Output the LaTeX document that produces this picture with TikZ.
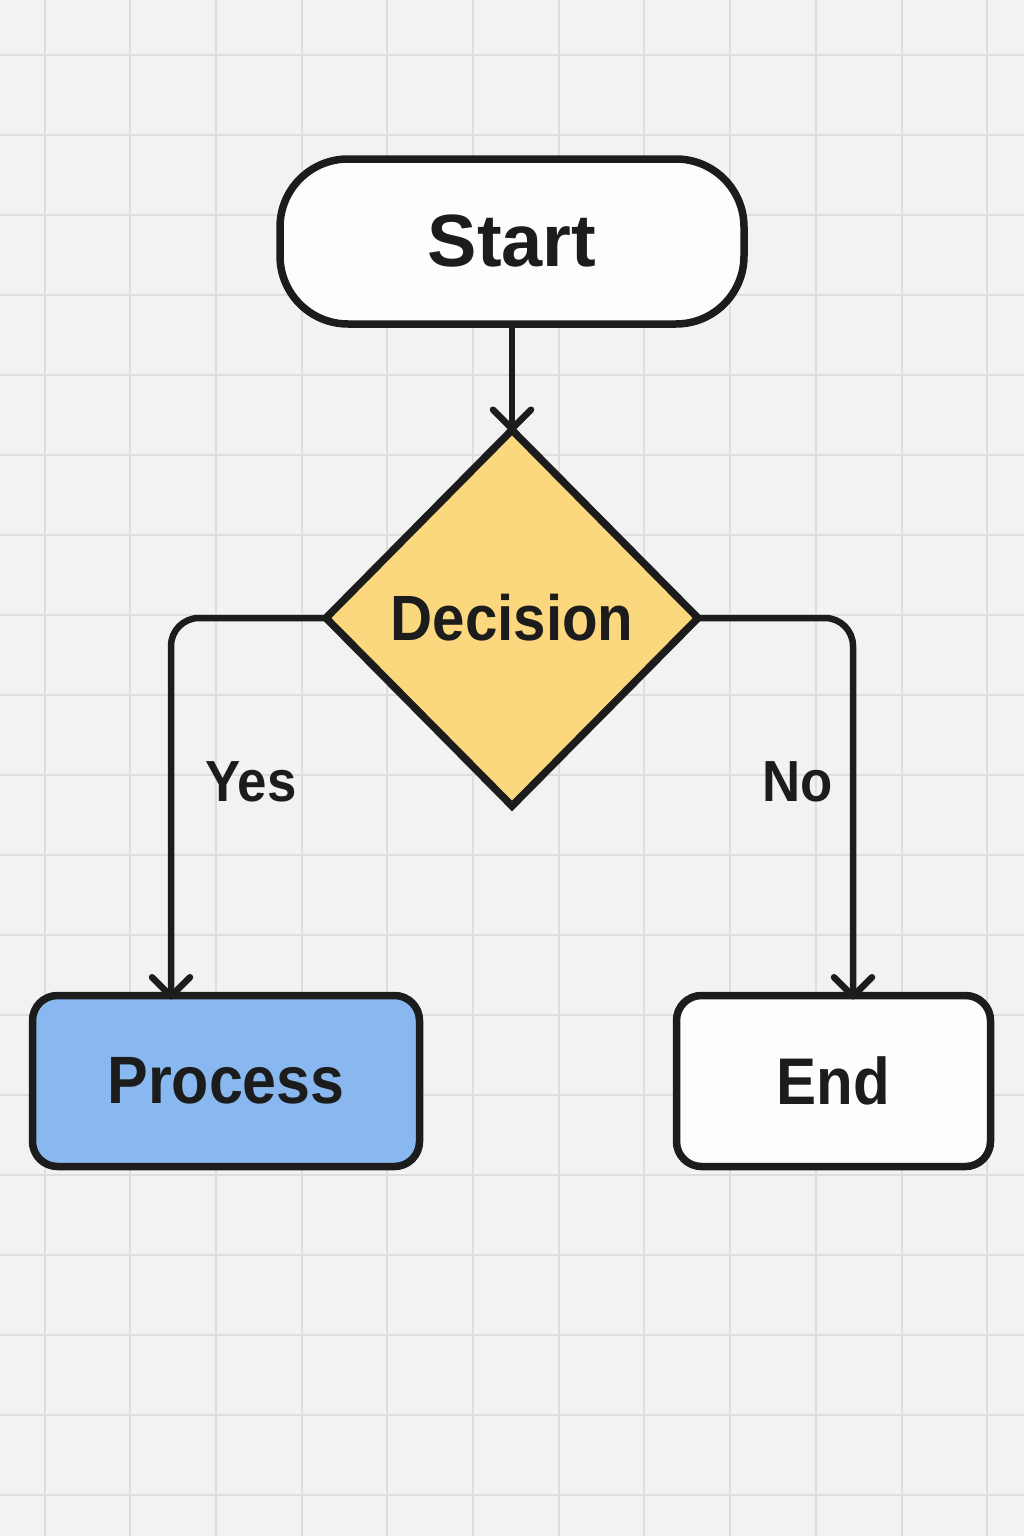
\documentclass[tikz,border=0pt]{standalone}
\usepackage{fontspec}
\setmainfont{Liberation Sans}
\newfontfamily\labfont{Liberation Sans}[FakeStretch=0.91]
\usetikzlibrary{shapes.geometric,arrows.meta}

\definecolor{paper}{HTML}{F2F2F2}
\definecolor{gridc}{HTML}{DEDEDE}
\definecolor{ink}{HTML}{1C1C1C}
\definecolor{boxwhite}{HTML}{FDFDFD}
\definecolor{decfill}{HTML}{FBD87E}
\definecolor{procfill}{HTML}{89B8F0}

\tikzset{
  gridline/.style={draw=gridc, line width=2pt},
  shapebase/.style={draw=ink, line width=7.5pt, inner sep=0pt, outer sep=0pt, text=ink, font=\bfseries},
  terminal/.style={shapebase, rectangle, rounded corners=68pt, fill=boxwhite},
  decisionbox/.style={shapebase, diamond, fill=decfill, line join=miter},
  procbox/.style={shapebase, rectangle, rounded corners=25pt},
  conn/.style={draw=ink, line width=6.5pt, rounded corners=28pt,
    -{Straight Barb[length=19pt,width=38pt,round]}},
  edgelabel/.style={text=ink, font=\labfont\bfseries\fontsize{58}{60}\selectfont, inner sep=0pt}
}

\begin{document}
\begin{tikzpicture}[x=1pt,y=-1pt]
  % page and background grid
  \useasboundingbox (0,0) rectangle (1024,1536);
  \fill[paper] (0,0) rectangle (1024,1536);
  \foreach \i in {0,...,11}
    \draw[gridline] ({44.5+85.7*\i},0) -- ++(0,1536);
  \foreach \j in {0,...,18}
    \draw[gridline] (0,{55+80*\j}) -- ++(1024,0);

  % flowchart nodes
  \node[terminal, minimum width=464pt, minimum height=165pt,
        font=\bfseries\fontsize{74}{80}\selectfont] (start) at (512,241.5) {Start};
  \node[decisionbox, minimum width=372pt, minimum height=376pt,
        font=\labfont\bfseries\fontsize{64}{68}\selectfont] (dec) at (512,618) {Decision};
  \node[procbox, fill=procfill, minimum width=387pt, minimum height=171pt,
        font=\labfont\bfseries\fontsize{67}{70}\selectfont] (proc) at (226,1081) {Process};
  \node[procbox, fill=boxwhite, minimum width=314pt, minimum height=171pt,
        font=\labfont\bfseries\fontsize{66}{70}\selectfont] (end) at (833.5,1081) {End};

  % connectors
  \draw[conn] (start.south) -- ([yshift=-2pt]dec.north);
  \draw[conn] (dec.west) -| ([xshift=-55pt,yshift=-4pt]proc.north);
  \draw[conn] (dec.east) -| ([xshift=19.5pt,yshift=-4pt]end.north);

  % branch labels
  \node[edgelabel] (yes) at (251,782) {Yes};
  \node[edgelabel] (no) at (798,782) {No};
\end{tikzpicture}
\end{document}
